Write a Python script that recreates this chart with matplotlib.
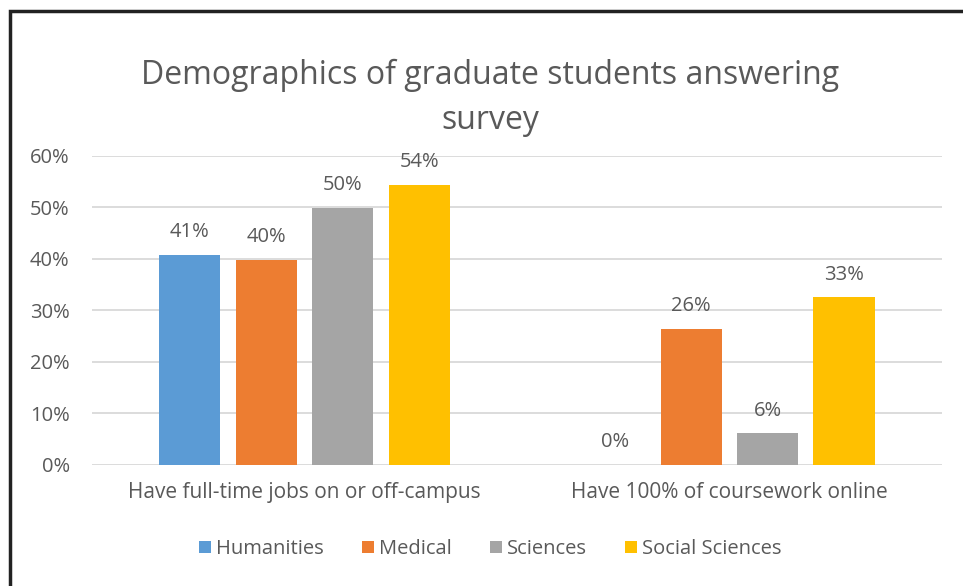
import matplotlib.pyplot as plt
import numpy as np
from matplotlib.patches import Rectangle

categories = ['Have full-time jobs on or off-campus', 'Have 100% of coursework online']
series = ['Humanities', 'Medical', 'Sciences', 'Social Sciences']
humanities = [0.408, 0.0]
medical = [0.398, 0.264]
sciences = [0.499, 0.062]
social = [0.544, 0.326]
colors = ['#5B9BD5', '#ED7D31', '#A5A5A5', '#FFC000']

plt.rcParams['font.family'] = ['Open Sans', 'DejaVu Sans']
txt = '#595959'

fig = plt.figure(figsize=(9.63, 5.86), dpi=100)
ax = fig.add_axes([0.0955, 0.2065, 0.8825, 0.5275])

x = np.arange(len(categories))
slot = 0.18
width = 0.144
for i, (name, vals) in enumerate(zip(series, [humanities, medical, sciences, social])):
    pos = x + (i - 1.5) * slot
    bars = ax.bar(pos, vals, width, color=colors[i], label=name, zorder=3)
    for b, v in zip(bars, vals):
        ax.annotate('{:.0f}%'.format(v * 100), (b.get_x() + b.get_width() / 2, v),
                    xytext=(0, 9), textcoords='offset points', ha='center', va='bottom',
                    fontsize=14.5, color=txt)

ax.set_xlim(-0.5, 1.5)
ax.set_ylim(0, 0.6)
ax.set_yticks(np.arange(0, 0.61, 0.1))
ax.set_yticklabels(['{:.0f}%'.format(t * 100) for t in np.arange(0, 0.61, 0.1)])
ax.set_xticks(x)
ax.set_xticklabels(categories)
ax.tick_params(axis='both', length=0, labelsize=14.5, colors=txt)
ax.tick_params(axis='x', pad=12, labelsize=15)
ax.tick_params(axis='y', pad=16)
ax.grid(axis='y', color='#D9D9D9', linewidth=1.3, zorder=0)
for s in ax.spines.values():
    s.set_visible(False)

fig.text(0.509, 0.833, 'Demographics of graduate students answering\nsurvey', ha='center',
         va='center', fontsize=23, color=txt, linespacing=1.45)

fig.legend(loc='center', bbox_to_anchor=(0.509, 0.063), ncol=4, frameon=False,
           fontsize=14.5, labelcolor=txt, handlelength=0.6, handleheight=0.6,
           handletextpad=0.25, columnspacing=1.9)

fig.patches.append(Rectangle((10 / 963, -0.1), 1.2, 1 - 11 / 586 + 0.1,
                             transform=fig.transFigure, fill=False,
                             edgecolor='#222222', linewidth=2.5))

plt.savefig('out.png', dpi=100)
